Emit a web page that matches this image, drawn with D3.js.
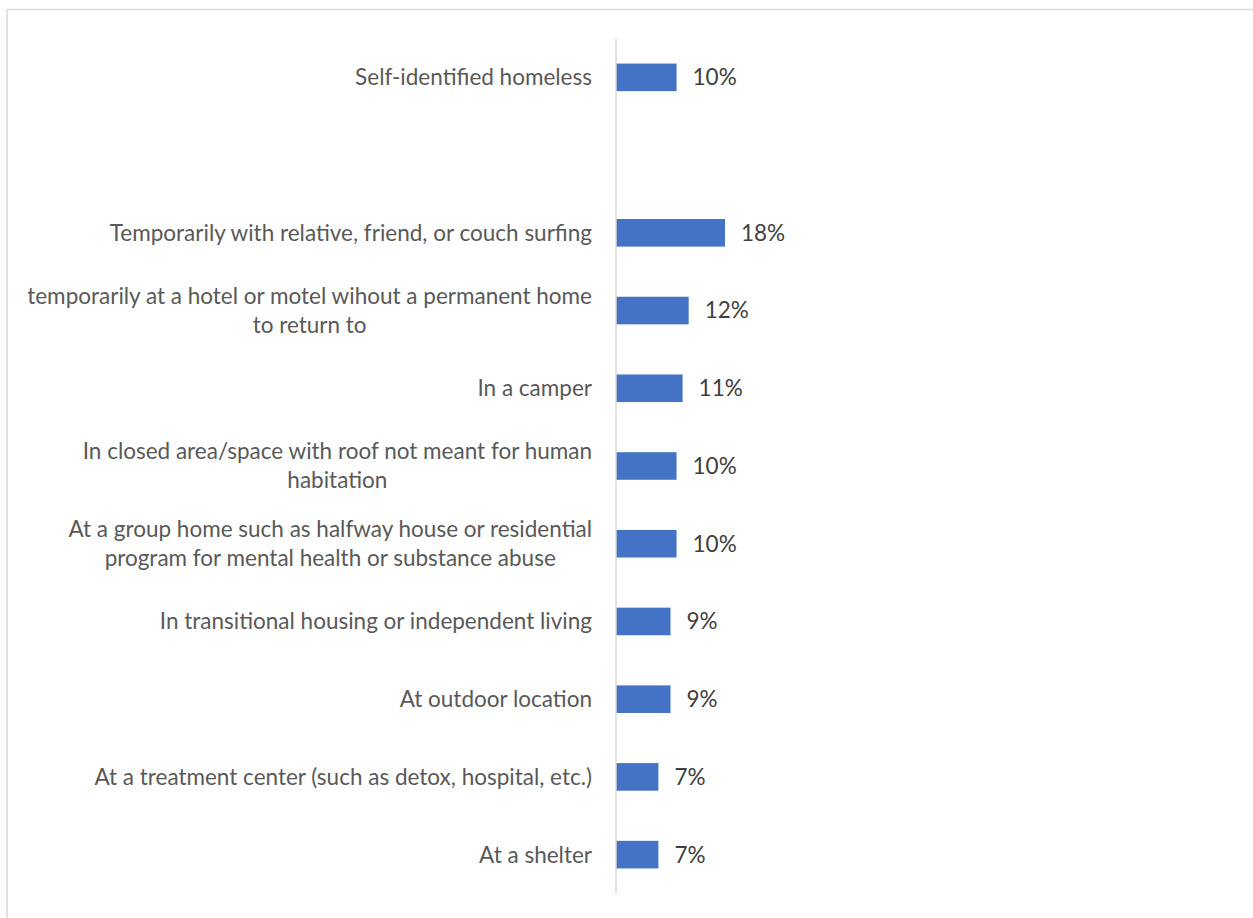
<!DOCTYPE html>
<html>
<head>
<meta charset="utf-8">
<script src="https://cdn.jsdelivr.net/npm/d3@7"></script>
<style>
  html, body { margin: 0; padding: 0; background: #fff; }
  svg { display: block; }
</style>
</head>
<body>
<svg id="chart" width="1253" height="918"></svg>
<script>
// Where respondents stayed — share of responses per location
const categories = [
  "Self-identified homeless",
  "",
  "Temporarily with relative, friend, or couch surfing",
  "temporarily at a hotel or motel wihout a permanent home to return to",
  "In a camper",
  "In closed area/space with roof not meant for human habitation",
  "At a group home such as halfway house or residential program for mental health or substance abuse",
  "In transitional housing or independent living",
  "At outdoor location",
  "At a treatment center (such as detox, hospital, etc.)",
  "At a shelter"
];
const values = [0.10, null, 0.18, 0.12, 0.11, 0.10, 0.10, 0.09, 0.09, 0.07, 0.07];

const W = 1253, H = 918;
const FONT = "Lato, 'Open Sans', sans-serif";
const FS = 22.5;

const svg = d3.select("#chart");

// chart frame (only top and left edges fall inside the view)
svg.append("line").attr("x1", 7).attr("x2", W).attr("y1", 9.5).attr("y2", 9.5)
  .attr("stroke", "#d9d9d9").attr("stroke-width", 1.5);
svg.append("line").attr("x1", 7).attr("x2", 7).attr("y1", 9).attr("y2", H)
  .attr("stroke", "#d9d9d9").attr("stroke-width", 1.5);

const data = categories.map((c, i) => ({ key: "c" + i, label: c, value: values[i] }));

const y = d3.scaleBand()
  .domain(data.map(d => d.key))
  .range([38.5, 893.5])
  .paddingInner(0.645)
  .paddingOuter(0.3225);

const x = d3.scaleLinear().domain([0, 0.18]).range([616, 725]);

// bars
svg.append("g").selectAll("rect")
  .data(data.filter(d => d.value != null))
  .join("rect")
  .attr("x", x(0))
  .attr("y", d => y(d.key))
  .attr("width", d => x(d.value) - x(0))
  .attr("height", y.bandwidth())
  .attr("fill", "#4472c4");

// category axis line
svg.append("line")
  .attr("x1", x(0)).attr("x2", x(0))
  .attr("y1", 38.5).attr("y2", 893.5)
  .attr("stroke", "#d9d9d9").attr("stroke-width", 1.5);

// value labels
svg.append("g").selectAll("text")
  .data(data.filter(d => d.value != null))
  .join("text")
  .attr("x", d => x(d.value) + 16)
  .attr("y", d => y(d.key) + y.bandwidth() / 2)
  .attr("dy", "0.35em")
  .attr("font-family", FONT)
  .attr("font-size", FS)
  .attr("fill", "#404040")
  .text(d => Math.round(d.value * 100) + "%");

// category labels, wrapped and centred as a block right-aligned to the axis
const labelRight = 592;
const maxWidth = 580;
const lineH = 29;
const lg = svg.append("g");
data.forEach(d => {
  if (!d.label) return;
  const words = d.label.split(" ");
  const t = lg.append("text")
    .attr("font-family", FONT).attr("font-size", FS).attr("fill", "#595959");
  const lines = [];
  let cur = [];
  const probe = t.append("tspan");
  words.forEach(w => {
    const trial = cur.concat([w]).join(" ");
    probe.text(trial);
    if (probe.node().getComputedTextLength() > maxWidth && cur.length) {
      lines.push(cur.join(" "));
      cur = [w];
    } else cur.push(w);
  });
  lines.push(cur.join(" "));
  probe.remove();
  // measure widest line for block centring
  const widths = lines.map(l => { const s = t.append("tspan").text(l); const w = s.node().getComputedTextLength(); s.remove(); return w; });
  const blockW = d3.max(widths);
  const cx = labelRight - blockW / 2;
  const cy = y(d.key) + y.bandwidth() / 2;
  const y0 = cy - (lines.length - 1) * lineH / 2;
  lines.forEach((l, i) => {
    t.append("tspan")
      .attr("x", cx).attr("y", y0 + i * lineH).attr("dy", "0.35em")
      .attr("text-anchor", "middle")
      .text(l);
  });
});
</script>
</body>
</html>
